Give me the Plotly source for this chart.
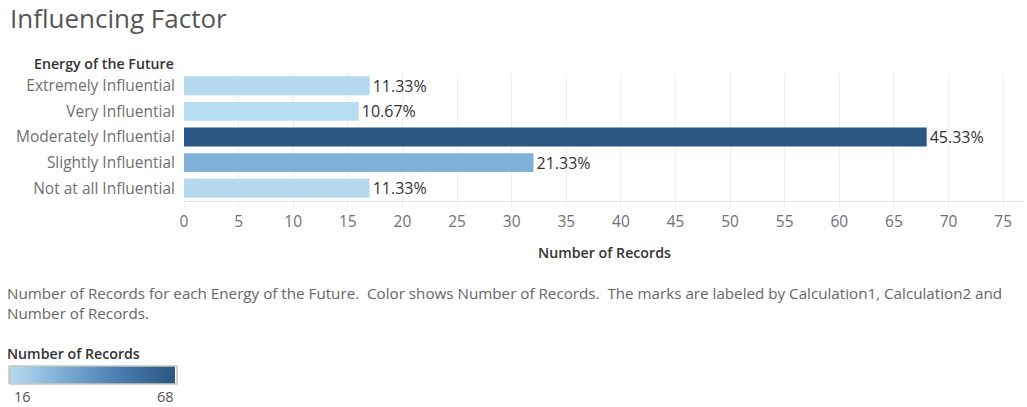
import plotly.graph_objects as go

# Survey responses: "Energy of the Future" influence rating
categories = [
    "Extremely Influential",
    "Very Influential",
    "Moderately Influential",
    "Slightly Influential",
    "Not at all Influential",
]
records = [17, 16, 68, 32, 17]
x_ticks = list(range(0, 80, 5))

total = sum(records)
pct_labels = [f"{r / total * 100:.2f}%" for r in records]

W, H = 1027, 407
L, R, T, B = 184, 2, 73, 206
PW, PH = W - L - R, H - T - B

FONT = "Open Sans"
blues = [
    [0.0, "#b9ddf1"],
    [0.3, "#80b1d8"],
    [0.65, "#4a7fb0"],
    [1.0, "#2a5783"],
]


def px_x(px):
    return (px - L) / PW


def px_y(py):
    return (H - B - py) / PH


fig = go.Figure(
    go.Bar(
        x=records,
        y=categories,
        orientation="h",
        width=0.74,
        marker=dict(
            color=records,
            colorscale=blues,
            cmin=min(records),
            cmax=max(records),
            line=dict(width=0),
            colorbar=dict(
                orientation="h",
                xref="container",
                yref="container",
                x=10 / W,
                xanchor="left",
                y=1 - 366 / H,
                yanchor="top",
                len=167,
                lenmode="pixels",
                thickness=18,
                thicknessmode="pixels",
                xpad=0,
                ypad=0,
                outlinecolor="#c9c6ba",
                outlinewidth=1.5,
                showticklabels=False,
                ticks="",
            ),
        ),
        text=pct_labels,
        textposition="outside",
        constraintext="none",
        textfont=dict(family=FONT, size=16, color="#333333"),
        cliponaxis=False,
        hoverinfo="skip",
    )
)

fig.update_layout(
    width=W,
    height=H,
    margin=dict(l=L, r=R, t=T, b=B),
    paper_bgcolor="white",
    plot_bgcolor="white",
    showlegend=False,
    font=dict(family=FONT, color="#666666"),
    title=dict(
        text="Influencing Factor",
        xref="container",
        yref="container",
        x=10 / W,
        xanchor="left",
        y=1 - 19 / H,
        yanchor="middle",
        font=dict(family=FONT, size=26, color="#555555"),
    ),
    xaxis=dict(
        range=[0, 77],
        tickvals=x_ticks,
        showgrid=True,
        gridcolor="#eeeeee",
        gridwidth=1,
        zeroline=False,
        showline=True,
        linecolor="#e6e6e6",
        ticks="outside",
        ticklen=6,
        tickcolor="#eeeeee",
        tickfont=dict(family=FONT, size=15.5, color="#707070"),
        title=dict(
            text="Number of Records",
            font=dict(family=FONT, size=14.2, color="#333333", weight=600),
            standoff=17,
        ),
        fixedrange=True,
    ),
    yaxis=dict(
        categoryorder="array",
        categoryarray=categories[::-1],
        showgrid=False,
        zeroline=False,
        showline=False,
        ticks="",
        ticklabelstandoff=8,
        tickfont=dict(family=FONT, size=15.5, color="#707070"),
        fixedrange=True,
    ),
)

annotations = [
    dict(
        text="Energy of the Future",
        x=px_x(176), y=px_y(63),
        xanchor="right", yanchor="middle",
        font=dict(family=FONT, size=14.2, color="#333333", weight=600),
    ),
    dict(
        text="Number of Records for each Energy of the Future.  Color shows Number of Records.  "
             "The marks are labeled by Calculation1, Calculation2 and",
        x=px_x(5), y=px_y(293),
        xanchor="left", yanchor="middle",
        font=dict(family=FONT, size=15.2, color="#666666"),
    ),
    dict(
        text="Number of Records.",
        x=px_x(5), y=px_y(313),
        xanchor="left", yanchor="middle",
        font=dict(family=FONT, size=15.2, color="#666666"),
    ),
    dict(
        text="Number of Records",
        x=px_x(5), y=px_y(353),
        xanchor="left", yanchor="middle",
        font=dict(family=FONT, size=14.2, color="#333333", weight=600),
    ),
    dict(
        text=str(min(records)),
        x=px_x(12), y=px_y(396),
        xanchor="left", yanchor="middle",
        font=dict(family=FONT, size=14.5, color="#555555"),
    ),
    dict(
        text=str(max(records)),
        x=px_x(176), y=px_y(396),
        xanchor="right", yanchor="middle",
        font=dict(family=FONT, size=14.5, color="#555555"),
    ),
]
for a in annotations:
    a.update(xref="paper", yref="paper", showarrow=False)
fig.update_layout(annotations=annotations)

fig.write_html("out.html", config={"displayModeBar": False})
